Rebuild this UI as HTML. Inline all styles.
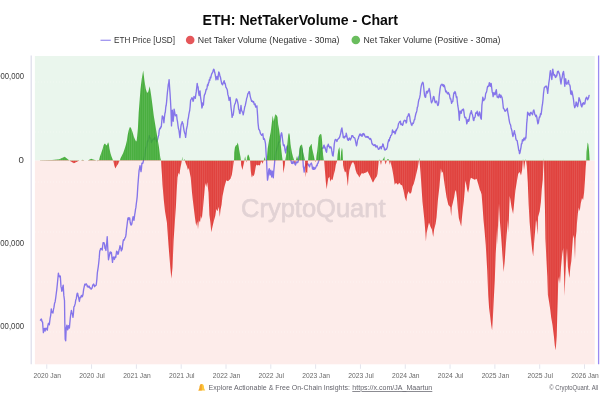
<!DOCTYPE html>
<html lang="en">
<head>
<meta charset="utf-8">
<title>ETH: NetTakerVolume - Chart</title>
<style>
html,body{margin:0;padding:0;background:#fff;}
body{width:600px;height:400px;overflow:hidden;position:relative;font-family:"Liberation Sans",sans-serif;}
svg{position:absolute;left:0;top:0;display:block;}
text{font-family:"Liberation Sans",sans-serif;}
.title{font-size:14.7px;font-weight:bold;fill:#0a0a0a;}
.lg{font-size:9px;fill:#333;}
.xl{font-size:7.7px;fill:#686868;}
.yl{font-size:9.7px;fill:#3c3c3c;}
.ft{font-size:7.4px;fill:#64646c;}
.wm{font-size:26px;fill:#8a8090;stroke:#8a8090;stroke-width:0.75px;stroke-linejoin:round;}
</style>
</head>
<body>
<svg width="600" height="400" viewBox="0 0 600 400" style="filter:blur(0.3px)">
<defs>
<clipPath id="cu"><rect x="34.9" y="56.0" width="559.8000000000001" height="104.6"/></clipPath>
<clipPath id="cd"><rect x="34.9" y="160.6" width="559.8000000000001" height="203.70000000000002"/></clipPath>
<clipPath id="cb"><path d="M40,160.6L40,160.2L52,160.1L59.3,159.3L64.7,156.8L69.4,160.6L69.7,160.8L73.9,163.2L79.4,160.6L81,160.4L82.8,159.8L84.4,160.5L87.8,160.4L91.1,158.8L94,159.8L97,160.5L97.8,161.2L98.9,160.7L99.8,157.1L101.2,153L102.6,148.9L103.5,145.4L104.4,143.7L105.3,143.7L106.3,145.4L107.1,144.8L108.1,142.3L108.8,144.1L109.4,148.2L110.4,153L111.5,156.5L112.6,159.2L113.3,160.7L114.3,165.4L115.4,168.4L116.7,166L118.1,164L119.5,160.7L119.8,160.5L120.4,158.5L121.8,155.8L123.2,153L124.6,148.9L125.9,144.8L126.9,140.6L127.7,135.1L128.7,130.3L129.7,127.2L130.8,127.6L131.9,130.3L132.8,133.1L133.8,136.5L134.9,139.3L135.9,141.3L136.6,141.3L137.2,136L137.9,128.4L138.7,112.6L139.7,99.5L140.5,89L141.8,78.4L143.2,70.6L144.5,81L145.8,89L147.1,92.9L148.4,91.6L149.7,86.3L151,94.2L152.4,104.7L153.7,115.3L155,123.2L156.3,131L157.6,139L158.9,146.8L160.3,157.4L161,160.6L161.3,166L161.9,174L162.5,185L163.8,200L165,211.3L166.9,222.5L168.5,245L170.3,267.6L171.4,278.8L172.5,267.6L173.6,240.5L174.8,222.5L175.9,206.8L176.6,192.5L177.5,177.5L178.5,172.8L179.4,174.7L180.4,168L181.3,163.4L181.8,160.6L182.2,156.5L182.6,160.6L183.5,161L184,160L184.6,159L185,161.5L186.9,166.3L187.9,170L188.8,168.1L190.7,177.5L192,192.5L192.8,200L193.9,209L195,218L196.2,225.9L197.3,221.4L198,229.3L198.9,220.3L200,222.5L200.9,215.8L201.8,219.1L202.9,209L204.4,192.5L205.3,183L206.2,187L207.2,182.2L208.5,192.5L209.4,215L210.4,222.5L211.3,232.2L212.4,227L213.7,221.4L215.3,215.8L216.4,209L217.6,211.3L218.7,206.8L219.8,216.9L220.5,210.1L221.6,204.5L222.5,196.3L224.4,186.9L226.3,180.3L228,181.2L229.2,180L230.5,178.8L231.8,175L232.8,168.8L233.6,162.5L234,160.6L234.2,152.5L234.9,147.5L235.8,145.6L236.8,145L237.8,142.5L238.6,146.2L239.2,150L239.9,153.8L240.5,156.9L240.9,160.6L241.1,165L241.8,167.5L242.4,170L243.2,166.2L244,163.1L244.4,160.6L244.6,158.8L245.2,156.2L245.6,158.8L245.9,160.6L246.4,162.5L246.8,160.6L247.1,156.9L248,154.4L248.6,155L249.5,157.5L250.1,160.6L250.4,165L250.8,171.2L251.5,176.2L252,177.5L252.8,175L253.6,176.2L254.5,173.8L255.2,170L255.8,166.2L256.5,164.4L257.4,165.6L258.6,165L259.9,165.6L260.8,162.5L261.5,161.2L262.4,163.8L263.2,161.9L263.6,160.6L264,159.4L264.6,156.9L265.1,158.8L265.5,160.5L266.7,160L267.7,148.5L269.2,139.5L270.7,132L271.8,123L272.7,115.5L273.7,121.5L275.2,114.3L276.7,115.5L277.5,117L278.2,124.5L279,129L280,136.5L280.7,144L281.5,151.5L282.2,157.5L282.7,160.6L283,165L283.3,173.3L284.2,168.3L284.8,165L285.2,160.6L285.5,159L286,155.9L286.7,150L287.5,142.5L288.2,135L289,132.7L289.7,135L290.5,144L291.2,148.5L292,153L293,156.7L294.2,160.6L294.5,162L295,163.5L295.6,161L296,160L297,156L298.5,160.6L298.8,156.3L299.4,148.8L300,146.3L301,145L302,144.4L302.6,148.1L303.2,152.5L304.1,156.3L305,160.6L305.2,168.3L305.7,177.5L306.3,171.7L307.2,173.3L307.7,165L308,160.6L308.1,160.5L308.5,155L309.1,147.5L310,146.3L311,144.4L311.6,143.8L312.2,148.8L313.1,152.5L313.9,156.3L314.8,160.6L315.3,162L316,160.6L316.4,156.3L317.2,151.3L317.9,145L318.5,137.5L319.5,135L320.4,134L321.4,134.4L322,140L322.5,147.5L323.1,155L323.8,160.6L324.2,161L325,171.7L325.8,181.7L326.7,189.2L327.5,183.3L328.3,178.3L329.5,176.7L330.3,181.7L331.2,179.2L332.5,180L333.7,175L335,170L335.8,165L336.9,161.5L337.2,160.6L337.6,155L338.3,150L339.4,146.9L339.9,152L340.4,160L340.8,160L341.1,152L341.9,147.8L342.5,150L343,160.6L343.1,165L343.8,168.8L345,172.5L346,171.2L346.9,177.5L347.5,183.8L347.9,186.2L348.5,177.5L349.4,170L350.6,166.2L351.9,163.1L353.1,161.9L354.4,164.4L355.6,170L356.9,173.8L358.1,175L359.4,177.5L360.6,175L361.9,173.1L363.1,173.8L364.4,173.1L366.2,172.5L367.5,171.2L368.8,173.8L370,176.2L371.2,178.8L372.5,181.9L373.1,182.5L374.4,180L375.6,178.1L376.9,176.2L377.5,173.8L378.1,167.5L378.8,160.6L379.2,160L379.6,159.4L380,160.6L380.5,163L381,165L381.9,160.6L382.6,160L383.5,158.5L384.4,156.5L384.6,160.6L385.5,164.4L386.9,160.6L387.5,159L388.5,159L388.8,160.6L389.5,165L390,161L391.3,165L392.2,168.8L393.5,176.3L394.7,184.7L396,182.8L397.9,184.7L399.2,182.8L400.7,184.7L402.2,185.6L403.5,190.3L404.8,196.9L406.3,201.6L407.2,195L408.5,191.3L410,194.1L411.4,192.2L412.5,186.6L413.8,183.8L415.3,178.1L416.6,172.5L417.9,166.9L418.8,161.2L419.2,157.5L419.6,161.6L420.6,173.8L422.5,201.9L424.4,220L425.3,231.3L425.9,241.6L426.6,233.1L427.8,227.5L429,222.5L430.4,226.5L431.9,229.4L433.2,236.9L434.1,229.4L435.6,223.8L436.6,216.9L437.9,200L439.4,186.9L440.9,168.4L441.9,173.1L442.8,171.6L443.8,178.8L445.1,188.1L446.6,197.5L448.4,205L450.3,206.9L451.2,216.3L451.8,206.9L452.8,203.1L454.1,197.5L455,191.9L455.9,190L456.9,197.5L457.8,208.8L458.8,218.1L460.1,222.8L461.2,226.6L461.9,218.1L462.9,208.8L463.8,201.3L464.8,190L465.3,180.6L466.2,184.4L467.2,190L468.1,192.8L469.1,188.1L470,180.6L470.9,177.8L472.8,178.8L474.7,179.7L476.6,178.8L478.4,184.4L479.9,190L480.7,191.6L481.6,194.4L482.5,205.6L483.5,220L484.6,231.3L485.7,244.4L487.2,270L488.2,295L489.1,308.1L490.3,317.5L491.2,325L492.1,330.6L492.9,317.5L493.8,298.8L494.8,280L495.7,253.8L496.6,238.8L497.2,225.6L497.5,245.3L498.1,227.5L499,203.8L499.8,220L500.7,231.3L501.7,244.4L502.6,257.5L503.6,272.1L504.7,261.3L505.6,248.1L506.6,235L507.5,225.6L507.9,220L508.4,233.1L509,215L509.7,196L510.3,199L511.6,207.5L513.1,214L514.1,203.8L515.4,190.6L516.9,181.3L518.2,173.8L519.7,171.9L521,175.6L522.1,170L522.8,161.6L523,158.5L523.4,162L524,170L525,162.5L525.9,159L526.8,166.3L527.8,183.1L528.7,205.6L529.6,222L531,238.8L532.2,250L533.2,256.6L534.1,242.5L535.1,231.3L536,220L536.6,222.5L537.5,235L538.1,216.9L539.7,211.3L540.9,201.9L541.8,188.8L542.8,179.4L543.5,161.6L543.6,158L543.8,161L544.3,183.1L545,211.3L545.4,238.8L546.3,257.5L547.3,276.3L547.9,295L549.2,302.5L550.3,310L551.2,317.5L552.5,325L553.9,336.3L554.8,345.6L555.7,350.3L556.7,336.3L557.2,317.5L557.8,298.8L558.2,282L559.1,276.3L560,283.8L561,266.9L562.3,253.8L563.2,248.1L564.1,276.3L564.6,296L565.3,276.3L566,263.1L567,248.1L567.9,266.9L568.9,274.4L569.4,278L570.4,266.9L571.3,261.3L572.2,248.1L573.2,235L574.1,238.8L575,259.4L575.6,238.8L576.5,231.3L576.9,224L577.9,213.1L578.8,207.5L579.7,211.3L580.7,203.8L582,198.1L583.1,200L584.1,192.5L585,179.4L585.7,168.1L586.3,160.6L586.5,152L587.2,146L587.6,142.6L588.3,144L589,150L589.7,160.6L589.7,160.6Z"/></clipPath>
<pattern id="st" width="2.15" height="10" patternUnits="userSpaceOnUse"><rect x="0" y="0" width="0.8" height="10" fill="#ffffff" fill-opacity="0.11"/></pattern>
<clipPath id="bl"><rect x="196" y="382" width="5.8" height="10"/></clipPath>
<clipPath id="cp"><rect x="34.9" y="56.0" width="563.8000000000001" height="308.3"/></clipPath>
</defs>
<rect x="0" y="0" width="600" height="400" fill="#ffffff"/>
<!-- title -->
<text x="300.3" y="25.2" text-anchor="middle" class="title" textLength="195.5" lengthAdjust="spacingAndGlyphs">ETH: NetTakerVolume - Chart</text>
<!-- legend -->
<line x1="100.5" y1="40.3" x2="110.8" y2="40.3" stroke="#a095f0" stroke-width="1.3"/>
<text x="114" y="43.2" class="lg" textLength="61" lengthAdjust="spacingAndGlyphs">ETH Price [USD]</text>
<circle cx="190.2" cy="40" r="4.3" fill="#e5575a"/>
<text x="197.8" y="43.2" class="lg" textLength="141.7" lengthAdjust="spacingAndGlyphs">Net Taker Volume (Negative - 30ma)</text>
<circle cx="355.8" cy="40" r="4.3" fill="#6abd5e"/>
<text x="363.5" y="43.2" class="lg" textLength="137" lengthAdjust="spacingAndGlyphs">Net Taker Volume (Positive - 30ma)</text>
<!-- plot bands -->
<rect x="34.9" y="56.0" width="559.8000000000001" height="104.6" fill="#eaf6ed"/>
<rect x="34.9" y="160.6" width="559.8000000000001" height="203.70000000000002" fill="#fdecea"/>
<line x1="34.9" y1="82" x2="594.7" y2="82" stroke="#ffffff" stroke-opacity="0.35" stroke-width="1" stroke-dasharray="1 2"/><line x1="34.9" y1="132" x2="594.7" y2="132" stroke="#ffffff" stroke-opacity="0.35" stroke-width="1" stroke-dasharray="1 2"/><line x1="34.9" y1="182" x2="594.7" y2="182" stroke="#ffffff" stroke-opacity="0.35" stroke-width="1" stroke-dasharray="1 2"/><line x1="34.9" y1="232" x2="594.7" y2="232" stroke="#ffffff" stroke-opacity="0.35" stroke-width="1" stroke-dasharray="1 2"/><line x1="34.9" y1="282" x2="594.7" y2="282" stroke="#ffffff" stroke-opacity="0.35" stroke-width="1" stroke-dasharray="1 2"/><line x1="34.9" y1="332" x2="594.7" y2="332" stroke="#ffffff" stroke-opacity="0.35" stroke-width="1" stroke-dasharray="1 2"/>
<!-- axes -->
<line x1="31.2" y1="55.5" x2="31.2" y2="364.3" stroke="#dcdcea" stroke-width="1.2"/>
<line x1="598.6" y1="55.5" x2="598.6" y2="364.3" stroke="#9a8bf2" stroke-width="1.3"/>
<line x1="46.75" y1="364.3" x2="46.75" y2="368.8" stroke="#e4e4ec" stroke-width="1"/><line x1="91.56" y1="364.3" x2="91.56" y2="368.8" stroke="#e4e4ec" stroke-width="1"/><line x1="136.38" y1="364.3" x2="136.38" y2="368.8" stroke="#e4e4ec" stroke-width="1"/><line x1="181.19" y1="364.3" x2="181.19" y2="368.8" stroke="#e4e4ec" stroke-width="1"/><line x1="226.00" y1="364.3" x2="226.00" y2="368.8" stroke="#e4e4ec" stroke-width="1"/><line x1="270.81" y1="364.3" x2="270.81" y2="368.8" stroke="#e4e4ec" stroke-width="1"/><line x1="315.62" y1="364.3" x2="315.62" y2="368.8" stroke="#e4e4ec" stroke-width="1"/><line x1="360.44" y1="364.3" x2="360.44" y2="368.8" stroke="#e4e4ec" stroke-width="1"/><line x1="405.25" y1="364.3" x2="405.25" y2="368.8" stroke="#e4e4ec" stroke-width="1"/><line x1="450.06" y1="364.3" x2="450.06" y2="368.8" stroke="#e4e4ec" stroke-width="1"/><line x1="494.88" y1="364.3" x2="494.88" y2="368.8" stroke="#e4e4ec" stroke-width="1"/><line x1="539.69" y1="364.3" x2="539.69" y2="368.8" stroke="#e4e4ec" stroke-width="1"/><line x1="584.50" y1="364.3" x2="584.50" y2="368.8" stroke="#e4e4ec" stroke-width="1"/>
<text x="24" y="79.0" text-anchor="end" class="yl" textLength="42.7" lengthAdjust="spacingAndGlyphs">200,000,000</text><text x="24" y="162.70000000000002" text-anchor="end" class="yl">0</text><text x="24" y="245.9" text-anchor="end" class="yl" textLength="45.7" lengthAdjust="spacingAndGlyphs">-200,000,000</text><text x="24" y="328.9" text-anchor="end" class="yl" textLength="45.7" lengthAdjust="spacingAndGlyphs">-400,000,000</text>
<text x="47.25" y="378" text-anchor="middle" class="xl" textLength="27.5" lengthAdjust="spacingAndGlyphs">2020 Jan</text><text x="92.06" y="378" text-anchor="middle" class="xl" textLength="25.6" lengthAdjust="spacingAndGlyphs">2020 Jul</text><text x="136.88" y="378" text-anchor="middle" class="xl" textLength="27.5" lengthAdjust="spacingAndGlyphs">2021 Jan</text><text x="181.69" y="378" text-anchor="middle" class="xl" textLength="25.6" lengthAdjust="spacingAndGlyphs">2021 Jul</text><text x="226.50" y="378" text-anchor="middle" class="xl" textLength="27.5" lengthAdjust="spacingAndGlyphs">2022 Jan</text><text x="271.31" y="378" text-anchor="middle" class="xl" textLength="25.6" lengthAdjust="spacingAndGlyphs">2022 Jul</text><text x="316.12" y="378" text-anchor="middle" class="xl" textLength="27.5" lengthAdjust="spacingAndGlyphs">2023 Jan</text><text x="360.94" y="378" text-anchor="middle" class="xl" textLength="25.6" lengthAdjust="spacingAndGlyphs">2023 Jul</text><text x="405.75" y="378" text-anchor="middle" class="xl" textLength="27.5" lengthAdjust="spacingAndGlyphs">2024 Jan</text><text x="450.56" y="378" text-anchor="middle" class="xl" textLength="25.6" lengthAdjust="spacingAndGlyphs">2024 Jul</text><text x="495.38" y="378" text-anchor="middle" class="xl" textLength="27.5" lengthAdjust="spacingAndGlyphs">2025 Jan</text><text x="540.19" y="378" text-anchor="middle" class="xl" textLength="25.6" lengthAdjust="spacingAndGlyphs">2025 Jul</text><text x="585.00" y="378" text-anchor="middle" class="xl" textLength="27.5" lengthAdjust="spacingAndGlyphs">2026 Jan</text>
<!-- watermark -->
<g opacity="0.23"><text x="313.3" y="216.5" text-anchor="middle" class="wm" textLength="144.5" lengthAdjust="spacingAndGlyphs">CryptoQuant</text></g>
<!-- price -->
<path d="M40.4,320.2L40.9,319.27L41.4,319.03L42,321.5L42.6,322.25L43,327.86L43.4,332.66L43.8,329.37L44.2,328.61L44.65,328.46L45.1,331.03L45.65,328.56L46.2,328.17L46.75,329.02L47.3,330.24L47.85,325.62L48.4,323.31L48.85,324.38L49.3,324.87L49.7,321.68L50.1,318.39L50.7,315.33L51.3,308.82L51.7,312.08L52.1,312.48L52.5,312.03L52.9,313.1L53.45,309.58L54,307.13L54.55,303.34L55.1,301.89L55.7,298.02L56.3,293.27L56.8,289.34L57.3,284.54L57.7,280.24L58.4,273.19L58.9,275.74L59.4,276.82L59.85,275.89L60.3,276.09L61,286.65L61.4,288.2L61.8,291.21L62.25,289.8L62.7,287.23L63.2,285.08L63.8,295.13L64.5,300.49L64.8,322.14L65.2,339.28L65.7,340.8L66.2,328.2L66.9,325.11L67.3,328.52L67.7,329.93L68.1,328.17L68.5,325.62L68.95,327.4L69.4,327.98L69.8,323.32L70.2,318.89L70.8,313.79L71.4,310.41L71.8,312.13L72.2,313.58L72.6,315.07L73,317.26L73.45,313.18L73.9,306.77L74.4,306.44L74.9,304.64L75.3,303.2L75.7,300.25L76.3,298.63L76.9,294.54L77.3,293.15L77.7,293.28L78.15,296.01L78.6,297.1L79,299.59L79.4,301.45L79.85,298.55L80.3,297.14L80.85,297.55L81.4,295.51L81.9,295.59L82.4,296.69L83,294.51L83.6,289.56L84.2,286.95L84.8,284.25L85.23,285.08L85.67,284.62L86.1,283.78L86.7,284.39L87.3,286.61L87.73,286.01L88.17,287.32L88.6,286.38L89.2,286.1L89.8,288.06L90.23,287.86L90.67,288.13L91.1,289.18L91.7,288.62L92.3,287.25L92.77,284.91L93.23,285.06L93.7,284.06L94.13,284.97L94.57,286.69L95,286.1L95.6,285.5L96.2,285.12L96.9,278.99L97.35,272.76L97.8,269.82L98.3,266.49L98.8,262.29L99.25,257.64L99.7,251.49L100.13,250.36L100.57,248.54L101,248.94L101.6,248.39L102.2,250.15L102.65,245.98L103.1,242.75L103.55,242.62L104,242.63L104.5,244.45L105,248.43L105.45,248.5L105.9,250.46L106.3,245.43L106.7,243.49L107.2,236.72L107.8,248.43L108.5,259.74L109,257.19L109.5,255.16L109.95,252.32L110.4,251.97L110.9,253.53L111.4,252.46L111.95,257.6L112.5,262.37L112.95,258.81L113.4,257.03L113.9,257.44L114.4,259.45L114.83,257.45L115.27,256.4L115.7,257.67L116.15,254.48L116.6,251.23L117.03,252.66L117.47,252.05L117.9,254.43L118.45,253.49L119,250.08L119.5,248.44L120,245.75L120.43,247.13L120.87,248.07L121.3,250.89L121.75,249.8L122.2,249.09L122.63,245.16L123.07,241.7L123.5,239.73L124,240.22L124.5,239.19L125,237.82L125.5,237.05L126,234.95L126.45,229.68L126.9,226.32L127.4,222.12L127.9,218.31L128.35,217.83L128.8,219.47L129.25,218.03L129.7,218L130.2,222.47L130.7,224.34L131.13,225.08L131.57,224.6L132,222.98L132.55,219.29L133.1,216.61L133.55,217.93L134,220.28L134.7,214.69L135.1,212.37L135.5,209.42L135.9,207.42L136.3,203.78L136.75,200.51L137.2,196.61L137.8,186.46L138.5,177.67L139.1,170.43L139.55,168.5L140,165.56L140.5,168.53L141,171.56L141.45,168.52L141.9,163.22L142.4,163.5L142.9,163.21L143.4,160.89L143.85,158.7L144.3,157.47L144.7,155.42L145.1,152.15L145.55,149.21L146,147.1L146.45,147.19L146.9,144.12L147.36,141.16L147.82,141.62L148.28,140.5L148.74,137.95L149.2,135.74L149.72,137.57L150.25,137.84L150.78,139.02L151.3,142.49L151.87,141.58L152.43,140.35L153,139.86L153.45,138.78L153.9,139.67L154.35,139.1L154.8,137.4L155.37,138.39L155.93,139.95L156.5,141.73L156.95,141.41L157.4,140.05L157.85,138.31L158.3,136.41L158.75,134.93L159.2,130.45L159.6,129.17L160,128.09L160.43,128.65L160.87,126.63L161.3,126.74L161.8,121.05L162.3,115.83L162.75,116.72L163.2,116.99L163.9,122.74L164.4,117.45L164.9,113.48L165.33,112L165.77,107.22L166.2,105.27L166.6,101.83L167,97.06L167.43,92.24L167.87,88.59L168.3,84.36L168.7,83L169.1,79.59L169.55,86.73L170,92.84L170.45,99.93L170.9,108.39L171.5,125.91L171.9,118.14L172.3,110.27L172.75,116.89L173.2,121.24L173.65,115.54L174.1,109.11L174.7,112.39L175.3,115.8L175.73,115.16L176.17,115.1L176.6,114.68L177.05,119.32L177.5,121.51L178,125.53L178.5,128.83L179,130.35L179.45,134.08L179.9,137.67L180.4,133.07L180.9,126.52L181.33,124.2L181.77,123.59L182.2,121.75L182.63,122.99L183.07,124.05L183.5,127.08L184.05,130.55L184.6,132.92L185.1,133.81L185.6,137.43L186.03,134.25L186.47,129.26L186.9,127.3L187.4,125.17L187.9,119.79L188.4,117.98L188.83,114.69L189.27,112.46L189.7,110.51L190.15,106.3L190.6,100.24L191.03,99.46L191.47,98.78L191.9,97.63L192.5,98.79L193.1,101.41L193.55,99.92L194,96.4L194.43,97.7L194.87,97.99L195.3,98.29L195.8,94.54L196.3,91.43L196.75,87.59L197.2,83.34L197.65,86.66L198.1,86.9L198.6,92.67L199.1,95.49L199.55,92.9L200,90.82L200.45,96.34L200.9,99.46L201.4,102.79L201.9,108.02L202.35,106.53L202.8,102.83L203.4,105.05L203.85,99.1L204.3,95.44L204.73,94.28L205.17,93.73L205.6,91.77L206.1,89.31L206.6,89.63L207.1,87.42L207.53,84.65L207.97,85.68L208.4,82.94L208.87,82.77L209.33,79.68L209.8,80.37L210.3,77.13L210.8,77.95L211.3,75.25L211.8,73.58L212.3,72.99L212.8,72.05L213.23,70.27L213.67,69.22L214.1,69.73L214.7,72.53L215.13,74.13L215.57,76.78L216,79.83L216.55,77.56L217.1,76.4L217.5,77.42L217.9,79.67L218.35,75.02L218.8,71.9L219.4,73.28L220,76.44L220.43,77.02L220.87,79.58L221.3,81.69L221.73,83.83L222.17,84.22L222.6,84.67L223.15,83.07L223.7,81.76L224.13,80.72L224.57,83.46L225,83.03L225.43,84.65L225.87,87.24L226.3,87.69L226.8,88.77L227.3,89.9L227.85,94.45L228.4,96.13L229.1,100.35L229.6,99.22L230.1,97.34L230.55,102.06L231,107.34L231.55,111.31L232.1,117.41L232.57,114.95L233.03,115.39L233.5,112.84L233.93,108.99L234.37,105.65L234.8,104.16L235.3,103.34L235.8,101.18L236.3,98.87L236.73,99.26L237.17,100.35L237.6,101.86L238.15,104.62L238.7,109.34L239.13,109.92L239.57,113.25L240,113.6L240.5,109.49L241,105.33L241.45,109.85L241.9,111.1L242.33,112.1L242.77,112.27L243.2,114.88L243.75,112.12L244.3,109.4L244.77,106.64L245.23,105.68L245.7,103.28L246.2,100.89L246.7,98.17L247.2,97.09L247.63,94.56L248.07,93.23L248.5,93.19L248.95,91.7L249.4,91.69L249.85,94.04L250.3,96.56L250.77,98.34L251.23,100.08L251.7,101.4L252.2,100.97L252.7,101.08L253.2,102.41L253.7,101.78L254.2,104.44L254.7,104.85L255.13,103.96L255.57,106.97L256,107.01L256.45,106.48L256.9,105.85L257.6,115.33L258,122.62L258.7,129.02L259.25,129.76L259.8,130.85L260.25,132.91L260.7,133.84L261.2,134.5L261.7,135.41L262.25,134.8L262.8,133.7L263.5,139.22L264.1,138.44L264.7,139.81L265.1,141.68L265.5,143.59L266.2,154.85L266.6,161.06L266.9,168.43L267.5,180.13L267.9,178.04L268.3,174.99L268.75,170.16L269.2,168.61L269.6,172.39L270,175L270.4,172.61L270.8,170.17L271.25,172.05L271.7,176.95L272.1,173.46L272.5,171.25L272.9,173.9L273.3,177.74L273.75,171.22L274.2,166.95L274.7,161.3L275.13,157.68L275.57,154.25L276,151.48L276.55,150.18L277.1,148.55L277.65,146.23L278.2,144.15L278.7,142.23L279.2,141.94L279.7,142.24L280.2,140.23L280.7,135.91L281.2,133.57L281.6,132.79L282,134.54L282.7,140.76L283.1,143.77L283.5,145.7L284.2,144.88L284.6,146.72L285,150.02L285.7,152.96L286.1,150.65L286.5,148.1L287.2,145.91L287.65,146.22L288.1,150.18L288.55,151.68L289,151.49L289.5,154.08L290,157.36L290.5,160L291,160.75L291.7,163.26L292.23,162.03L292.77,163.64L293.3,161.4L293.87,162.78L294.43,162.29L295,164.23L295.57,164.99L296.13,161.96L296.7,162.84L297.23,161.96L297.77,162.53L298.3,161.01L298.87,156.89L299.43,155.79L300,151.49L300.5,148.81L301,147.48L301.5,147.69L302.2,149.95L302.6,154.81L303,160.42L303.3,166.54L303.75,168.65L304.2,172.06L304.6,167.71L305,166.96L305.4,166.47L305.8,163.8L306.37,165.18L306.93,164.24L307.5,163.72L308.1,163.92L308.7,165.67L309.13,165.21L309.57,166.76L310,165.09L310.43,164.02L310.87,163.65L311.3,163.06L311.9,164.89L312.5,168.78L313.1,169.35L313.7,167.27L314.13,169.37L314.57,167.88L315,168.95L315.6,167.98L316.2,166.37L316.63,165.19L317.07,165.8L317.5,163.7L318.1,162.99L318.7,160.94L319.2,159.44L319.7,156.92L320.2,153.05L320.7,152.16L321.2,148.65L321.7,148.74L322.22,148.02L322.73,148.59L323.25,147.65L323.68,145.91L324.1,145.13L324.55,147.83L325,147.11L325.5,149.32L326,151.14L326.6,152.29L327.25,145.85L327.75,146.43L328.25,144.15L328.68,145.82L329.1,146.09L329.55,147.37L330,147.99L330.5,146.8L331,147.14L331.45,148.52L331.9,151.73L332.6,155.6L333.1,156.01L333.75,150.43L334.25,144.32L334.62,142.05L335,140.22L335.5,139.38L336,139.57L336.45,140.48L336.9,141.47L337.4,139.87L337.9,139.15L338.4,138.66L338.9,137.91L339.32,137.95L339.75,136.81L340.18,135.09L340.6,133.83L341.25,129.87L341.9,127.93L342.5,132.04L342.88,134.03L343.25,137.39L343.68,136.38L344.1,138.1L344.55,137.59L345,136.68L345.5,135.75L346,136.66L346.2,133.14L346.65,135L347.1,137.14L347.57,139.5L348.03,140.11L348.5,140.39L349,138.27L349.5,138L350,139.32L350.43,139.95L350.87,138.35L351.3,138.19L351.8,135.67L352.3,135.91L352.8,135.75L353.23,136.91L353.67,137.63L354.1,137.7L354.53,137.71L354.97,138.56L355.4,140.64L355.95,143.37L356.5,145.79L357,144.12L357.5,140.23L357.93,139.21L358.37,138.33L358.8,136.26L359.23,136.12L359.67,134.25L360.1,135.6L360.65,134.05L361.2,134.84L361.65,135.94L362.1,136.39L362.53,134.42L362.97,133.72L363.4,133.54L363.87,134.96L364.33,134.17L364.8,135.85L365.3,136.67L365.8,137.15L366.3,137.08L366.8,136.37L367.3,137.5L367.8,136.69L368.23,136.9L368.67,137.68L369.1,138.58L369.53,138.67L369.97,139.52L370.4,138.47L370.9,139.14L371.4,140.61L371.9,143.28L372.33,144.35L372.77,144.09L373.2,145.1L373.7,145.29L374.2,145.52L374.7,144.62L375.13,144.61L375.57,146.47L376,147.05L376.5,146.08L377,145.8L377.5,147.33L377.93,147.9L378.37,149.31L378.8,149.08L379.4,148.89L380,146.85L380.43,147.21L380.87,146.92L381.3,148.89L381.8,146.4L382.3,146.49L382.8,143.82L383.23,144.4L383.67,147.15L384.1,147.28L384.53,149.79L384.97,149.35L385.4,149.97L385.95,149.02L386.5,149.31L386.93,148.03L387.37,147.01L387.8,143.43L388.3,141.58L388.8,139.7L389.3,140.79L389.8,137.66L390.3,137.63L390.73,135.55L391.17,135.31L391.6,134.82L392.05,133.2L392.5,129.94L392.93,131.83L393.37,132.26L393.8,131.42L394.4,131.56L395,133.86L395.43,133.21L395.87,130.13L396.3,130.77L396.8,129.3L397.3,128.35L397.8,127.62L398.23,125.24L398.67,123.18L399.1,122.87L399.55,121.75L400,121.78L400.43,121.1L400.87,124.56L401.3,123.79L401.9,124.12L402.5,125.34L402.93,124.73L403.37,122.33L403.8,120.83L404.23,120.89L404.67,120.25L405.1,120.74L405.65,120.78L406.2,122.96L406.63,122.12L407.07,117.36L407.5,116.51L408,116.14L408.5,114.08L408.93,113.66L409.37,114.87L409.8,117.04L410.35,121.56L410.9,122.84L411.4,124.79L411.9,125.42L412.33,123.88L412.77,123.05L413.2,123.58L413.7,122.22L414.2,119.92L414.7,119.63L415.13,116.98L415.57,114.99L416,113.28L416.43,112.37L416.87,110.65L417.3,107.34L417.85,106.18L418.4,102L418.83,99.83L419.27,98.69L419.7,97.38L420.2,94.66L420.7,89.58L421.25,86.15L421.8,84.03L422.3,82.93L422.8,82.25L423.25,83.4L423.7,87.22L424.15,91.82L424.6,95.64L425.1,97.07L425.6,97.31L426.05,93.88L426.5,91.41L426.93,91.49L427.37,93.05L427.8,92.06L428.23,90.36L428.67,90.79L429.1,88.53L429.7,90.74L430.3,94.81L430.75,98.76L431.2,101.72L431.65,102.89L432.1,101.4L432.6,101.01L433.1,97.85L433.55,96.4L434,96.78L434.43,99.06L434.87,101.56L435.3,102.74L435.73,101.4L436.17,101.35L436.6,101.13L437.2,103.67L437.8,105.56L438.25,105.09L438.7,102.97L439.15,96.51L439.6,92.86L440.1,88.63L440.6,86.07L441.05,84.92L441.5,84.85L441.93,84.16L442.37,84.78L442.8,85.73L443.23,84.63L443.67,86.49L444.1,85.08L444.7,86.83L445.3,89.59L445.73,91.81L446.17,90.99L446.6,91.32L447.03,93.13L447.47,93.26L447.9,93.92L448.4,92.54L448.9,93.99L449.4,94.74L449.83,96.99L450.27,98.78L450.7,98.62L451.15,100.83L451.6,103.4L452.2,101.47L452.8,101.5L453.25,97.45L453.7,93.85L454.13,92.42L454.57,93.3L455,91.55L455.5,92.73L456,95.59L456.45,97.59L456.9,96.79L457.35,101.69L457.8,105.73L458.3,108.5L458.8,112.96L459.3,120.22L459.7,115.06L460.1,111.04L460.65,112.5L461.2,113.26L461.7,110.81L462.2,109.79L462.63,109.48L463.07,110.23L463.5,109.07L463.95,112.14L464.4,115.69L464.83,117.49L465.27,117.34L465.7,117.34L466.25,119.7L466.8,123.89L467.3,122L467.8,119.85L468.25,119.42L468.7,121.25L469.13,119.99L469.57,116.93L470,114.77L470.43,113.06L470.87,113.63L471.3,110.7L471.9,113.15L472.5,114.85L472.95,117.1L473.4,120.08L473.83,120.56L474.27,118.02L474.7,117.48L475.13,116.92L475.57,113.78L476,112.58L476.6,113.4L477.2,111.22L477.65,114.61L478.1,115.9L478.53,115.88L478.97,113.35L479.4,111.85L479.9,113.09L480.4,116.95L480.85,118.27L481.3,119.23L481.9,105.17L482.35,101.77L482.8,97.06L483.25,99.11L483.7,100.63L484.2,99.4L484.7,99.12L485.15,98.03L485.6,93.99L486.03,92.8L486.47,92.18L486.9,90.19L487.33,87.56L487.77,86.11L488.2,86.47L488.75,85.83L489.3,82.78L489.8,83.06L490.3,86.45L490.75,84.21L491.2,83.52L491.7,87.71L492.2,91.94L492.65,92.93L493.1,96.6L493.55,93.57L494,92.4L494.47,94.17L494.93,94.75L495.4,94.07L495.85,91.2L496.3,89.59L496.75,93.5L497.2,97.08L497.7,96.52L498.2,97.83L498.65,96.92L499.1,94.82L499.55,94.32L500,97.07L500.47,97.54L500.93,95.15L501.4,96.66L501.95,97L502.5,100.1L502.95,104.3L503.4,108.43L503.93,108.69L504.47,109.99L505,111.29L505.46,110.5L505.92,110.72L506.38,109.6L506.84,109.1L507.3,108.3L507.73,111.82L508.17,114.1L508.6,116.52L509.1,119.99L509.6,122.44L510.1,123.96L510.57,124.94L511.03,127.72L511.5,129.29L511.97,130.99L512.43,134.29L512.9,136.47L513.4,134.79L513.9,133.06L514.4,130.62L514.87,133.91L515.33,134.65L515.8,138.55L516.27,140.1L516.73,140.27L517.2,140.73L517.7,144.08L518.2,146.57L518.7,150.27L519.1,150.46L519.5,153.67L520,152.69L520.5,149.8L521,147.33L521.47,143.68L521.93,143.65L522.4,139.79L522.9,140.94L523.4,140.6L523.9,138.12L524.4,139.2L524.9,139.99L525.4,137.2L525.9,138.14L526.3,131.92L526.7,123.64L527.15,119.44L527.6,112.26L528.17,114.38L528.73,113.3L529.3,115.3L529.87,115.63L530.43,112.56L531,112.25L531.5,113.45L532,113.82L532.5,114.81L532.97,112.45L533.43,110.48L533.9,110.06L534.37,112.04L534.83,114.59L535.3,114.95L535.8,116.65L536.3,115.15L536.8,116.83L537.35,120.81L537.9,123.85L538.4,122.72L538.9,119.37L539.4,116.88L539.97,116.98L540.53,113.68L541.1,114.42L541.57,110.96L542.03,106.92L542.5,104.21L543,99.75L543.5,93.52L544.2,88.08L544.6,87.08L545,87.28L545.4,86.58L545.8,86.16L546.5,86.26L547.2,89.53L547.7,93.34L548.2,88.74L548.8,83.15L549.5,78.51L550,73.09L550.4,70.67L550.8,73.8L551.3,75.48L551.8,79.51L552.2,75.63L552.5,70.12L552.8,69.13L553.3,73.01L554,75.42L554.5,74.65L555,76.21L555.5,77.46L556,77L556.4,75.26L556.8,75.85L557.5,71.59L558,71.35L558.4,71.17L558.8,72.59L559.5,74.09L560,76.69L560.5,81.13L561,83.97L561.5,79.62L562.2,77.46L562.6,74.23L563,72.63L563.5,71.38L564,75.15L564.5,83.39L564.8,86.3L565.2,79.9L565.7,78.75L566.2,82.99L566.6,84.18L567,84.07L567.4,82.8L567.8,82.65L568.5,80.44L569,84.46L569.7,84.75L570.2,86.74L570.7,93.42L571.2,94.52L571.8,91.03L572.3,92.9L573,96.72L573.5,99.54L574.1,104.94L574.7,107.69L575.17,106.42L575.63,105.66L576.1,102.02L576.6,102.93L577.1,105.59L577.6,106.71L578.07,104.26L578.53,101.91L579,97.76L579.5,98.96L580,100.37L580.5,101.93L580.97,105L581.43,106.12L581.9,106.93L582.37,103.79L582.83,104.87L583.3,102.66L583.8,102.8L584.3,104.13L584.8,103.85L585.27,101.14L585.73,98.85L586.2,97.82L586.67,97.18L587.13,98.54L587.6,99.76L588.1,98.65L588.6,97.67L589.1,95.42" fill="none" stroke="#8575ea" stroke-width="1.35" stroke-linejoin="round" stroke-linecap="round" clip-path="url(#cp)"/>
<!-- bars -->
<g opacity="0.88">
<path d="M40,160.6L40,160.2L52,160.1L59.3,159.3L64.7,156.8L69.4,160.6L69.7,160.8L73.9,163.2L79.4,160.6L81,160.4L82.8,159.8L84.4,160.5L87.8,160.4L91.1,158.8L94,159.8L97,160.5L97.8,161.2L98.9,160.7L99.8,157.1L101.2,153L102.6,148.9L103.5,145.4L104.4,143.7L105.3,143.7L106.3,145.4L107.1,144.8L108.1,142.3L108.8,144.1L109.4,148.2L110.4,153L111.5,156.5L112.6,159.2L113.3,160.7L114.3,165.4L115.4,168.4L116.7,166L118.1,164L119.5,160.7L119.8,160.5L120.4,158.5L121.8,155.8L123.2,153L124.6,148.9L125.9,144.8L126.9,140.6L127.7,135.1L128.7,130.3L129.7,127.2L130.8,127.6L131.9,130.3L132.8,133.1L133.8,136.5L134.9,139.3L135.9,141.3L136.6,141.3L137.2,136L137.9,128.4L138.7,112.6L139.7,99.5L140.5,89L141.8,78.4L143.2,70.6L144.5,81L145.8,89L147.1,92.9L148.4,91.6L149.7,86.3L151,94.2L152.4,104.7L153.7,115.3L155,123.2L156.3,131L157.6,139L158.9,146.8L160.3,157.4L161,160.6L161.3,166L161.9,174L162.5,185L163.8,200L165,211.3L166.9,222.5L168.5,245L170.3,267.6L171.4,278.8L172.5,267.6L173.6,240.5L174.8,222.5L175.9,206.8L176.6,192.5L177.5,177.5L178.5,172.8L179.4,174.7L180.4,168L181.3,163.4L181.8,160.6L182.2,156.5L182.6,160.6L183.5,161L184,160L184.6,159L185,161.5L186.9,166.3L187.9,170L188.8,168.1L190.7,177.5L192,192.5L192.8,200L193.9,209L195,218L196.2,225.9L197.3,221.4L198,229.3L198.9,220.3L200,222.5L200.9,215.8L201.8,219.1L202.9,209L204.4,192.5L205.3,183L206.2,187L207.2,182.2L208.5,192.5L209.4,215L210.4,222.5L211.3,232.2L212.4,227L213.7,221.4L215.3,215.8L216.4,209L217.6,211.3L218.7,206.8L219.8,216.9L220.5,210.1L221.6,204.5L222.5,196.3L224.4,186.9L226.3,180.3L228,181.2L229.2,180L230.5,178.8L231.8,175L232.8,168.8L233.6,162.5L234,160.6L234.2,152.5L234.9,147.5L235.8,145.6L236.8,145L237.8,142.5L238.6,146.2L239.2,150L239.9,153.8L240.5,156.9L240.9,160.6L241.1,165L241.8,167.5L242.4,170L243.2,166.2L244,163.1L244.4,160.6L244.6,158.8L245.2,156.2L245.6,158.8L245.9,160.6L246.4,162.5L246.8,160.6L247.1,156.9L248,154.4L248.6,155L249.5,157.5L250.1,160.6L250.4,165L250.8,171.2L251.5,176.2L252,177.5L252.8,175L253.6,176.2L254.5,173.8L255.2,170L255.8,166.2L256.5,164.4L257.4,165.6L258.6,165L259.9,165.6L260.8,162.5L261.5,161.2L262.4,163.8L263.2,161.9L263.6,160.6L264,159.4L264.6,156.9L265.1,158.8L265.5,160.5L266.7,160L267.7,148.5L269.2,139.5L270.7,132L271.8,123L272.7,115.5L273.7,121.5L275.2,114.3L276.7,115.5L277.5,117L278.2,124.5L279,129L280,136.5L280.7,144L281.5,151.5L282.2,157.5L282.7,160.6L283,165L283.3,173.3L284.2,168.3L284.8,165L285.2,160.6L285.5,159L286,155.9L286.7,150L287.5,142.5L288.2,135L289,132.7L289.7,135L290.5,144L291.2,148.5L292,153L293,156.7L294.2,160.6L294.5,162L295,163.5L295.6,161L296,160L297,156L298.5,160.6L298.8,156.3L299.4,148.8L300,146.3L301,145L302,144.4L302.6,148.1L303.2,152.5L304.1,156.3L305,160.6L305.2,168.3L305.7,177.5L306.3,171.7L307.2,173.3L307.7,165L308,160.6L308.1,160.5L308.5,155L309.1,147.5L310,146.3L311,144.4L311.6,143.8L312.2,148.8L313.1,152.5L313.9,156.3L314.8,160.6L315.3,162L316,160.6L316.4,156.3L317.2,151.3L317.9,145L318.5,137.5L319.5,135L320.4,134L321.4,134.4L322,140L322.5,147.5L323.1,155L323.8,160.6L324.2,161L325,171.7L325.8,181.7L326.7,189.2L327.5,183.3L328.3,178.3L329.5,176.7L330.3,181.7L331.2,179.2L332.5,180L333.7,175L335,170L335.8,165L336.9,161.5L337.2,160.6L337.6,155L338.3,150L339.4,146.9L339.9,152L340.4,160L340.8,160L341.1,152L341.9,147.8L342.5,150L343,160.6L343.1,165L343.8,168.8L345,172.5L346,171.2L346.9,177.5L347.5,183.8L347.9,186.2L348.5,177.5L349.4,170L350.6,166.2L351.9,163.1L353.1,161.9L354.4,164.4L355.6,170L356.9,173.8L358.1,175L359.4,177.5L360.6,175L361.9,173.1L363.1,173.8L364.4,173.1L366.2,172.5L367.5,171.2L368.8,173.8L370,176.2L371.2,178.8L372.5,181.9L373.1,182.5L374.4,180L375.6,178.1L376.9,176.2L377.5,173.8L378.1,167.5L378.8,160.6L379.2,160L379.6,159.4L380,160.6L380.5,163L381,165L381.9,160.6L382.6,160L383.5,158.5L384.4,156.5L384.6,160.6L385.5,164.4L386.9,160.6L387.5,159L388.5,159L388.8,160.6L389.5,165L390,161L391.3,165L392.2,168.8L393.5,176.3L394.7,184.7L396,182.8L397.9,184.7L399.2,182.8L400.7,184.7L402.2,185.6L403.5,190.3L404.8,196.9L406.3,201.6L407.2,195L408.5,191.3L410,194.1L411.4,192.2L412.5,186.6L413.8,183.8L415.3,178.1L416.6,172.5L417.9,166.9L418.8,161.2L419.2,157.5L419.6,161.6L420.6,173.8L422.5,201.9L424.4,220L425.3,231.3L425.9,241.6L426.6,233.1L427.8,227.5L429,222.5L430.4,226.5L431.9,229.4L433.2,236.9L434.1,229.4L435.6,223.8L436.6,216.9L437.9,200L439.4,186.9L440.9,168.4L441.9,173.1L442.8,171.6L443.8,178.8L445.1,188.1L446.6,197.5L448.4,205L450.3,206.9L451.2,216.3L451.8,206.9L452.8,203.1L454.1,197.5L455,191.9L455.9,190L456.9,197.5L457.8,208.8L458.8,218.1L460.1,222.8L461.2,226.6L461.9,218.1L462.9,208.8L463.8,201.3L464.8,190L465.3,180.6L466.2,184.4L467.2,190L468.1,192.8L469.1,188.1L470,180.6L470.9,177.8L472.8,178.8L474.7,179.7L476.6,178.8L478.4,184.4L479.9,190L480.7,191.6L481.6,194.4L482.5,205.6L483.5,220L484.6,231.3L485.7,244.4L487.2,270L488.2,295L489.1,308.1L490.3,317.5L491.2,325L492.1,330.6L492.9,317.5L493.8,298.8L494.8,280L495.7,253.8L496.6,238.8L497.2,225.6L497.5,245.3L498.1,227.5L499,203.8L499.8,220L500.7,231.3L501.7,244.4L502.6,257.5L503.6,272.1L504.7,261.3L505.6,248.1L506.6,235L507.5,225.6L507.9,220L508.4,233.1L509,215L509.7,196L510.3,199L511.6,207.5L513.1,214L514.1,203.8L515.4,190.6L516.9,181.3L518.2,173.8L519.7,171.9L521,175.6L522.1,170L522.8,161.6L523,158.5L523.4,162L524,170L525,162.5L525.9,159L526.8,166.3L527.8,183.1L528.7,205.6L529.6,222L531,238.8L532.2,250L533.2,256.6L534.1,242.5L535.1,231.3L536,220L536.6,222.5L537.5,235L538.1,216.9L539.7,211.3L540.9,201.9L541.8,188.8L542.8,179.4L543.5,161.6L543.6,158L543.8,161L544.3,183.1L545,211.3L545.4,238.8L546.3,257.5L547.3,276.3L547.9,295L549.2,302.5L550.3,310L551.2,317.5L552.5,325L553.9,336.3L554.8,345.6L555.7,350.3L556.7,336.3L557.2,317.5L557.8,298.8L558.2,282L559.1,276.3L560,283.8L561,266.9L562.3,253.8L563.2,248.1L564.1,276.3L564.6,296L565.3,276.3L566,263.1L567,248.1L567.9,266.9L568.9,274.4L569.4,278L570.4,266.9L571.3,261.3L572.2,248.1L573.2,235L574.1,238.8L575,259.4L575.6,238.8L576.5,231.3L576.9,224L577.9,213.1L578.8,207.5L579.7,211.3L580.7,203.8L582,198.1L583.1,200L584.1,192.5L585,179.4L585.7,168.1L586.3,160.6L586.5,152L587.2,146L587.6,142.6L588.3,144L589,150L589.7,160.6L589.7,160.6Z" fill="#32a526" clip-path="url(#cu)"/>
<path d="M40,160.6L40,160.2L52,160.1L59.3,159.3L64.7,156.8L69.4,160.6L69.7,160.8L73.9,163.2L79.4,160.6L81,160.4L82.8,159.8L84.4,160.5L87.8,160.4L91.1,158.8L94,159.8L97,160.5L97.8,161.2L98.9,160.7L99.8,157.1L101.2,153L102.6,148.9L103.5,145.4L104.4,143.7L105.3,143.7L106.3,145.4L107.1,144.8L108.1,142.3L108.8,144.1L109.4,148.2L110.4,153L111.5,156.5L112.6,159.2L113.3,160.7L114.3,165.4L115.4,168.4L116.7,166L118.1,164L119.5,160.7L119.8,160.5L120.4,158.5L121.8,155.8L123.2,153L124.6,148.9L125.9,144.8L126.9,140.6L127.7,135.1L128.7,130.3L129.7,127.2L130.8,127.6L131.9,130.3L132.8,133.1L133.8,136.5L134.9,139.3L135.9,141.3L136.6,141.3L137.2,136L137.9,128.4L138.7,112.6L139.7,99.5L140.5,89L141.8,78.4L143.2,70.6L144.5,81L145.8,89L147.1,92.9L148.4,91.6L149.7,86.3L151,94.2L152.4,104.7L153.7,115.3L155,123.2L156.3,131L157.6,139L158.9,146.8L160.3,157.4L161,160.6L161.3,166L161.9,174L162.5,185L163.8,200L165,211.3L166.9,222.5L168.5,245L170.3,267.6L171.4,278.8L172.5,267.6L173.6,240.5L174.8,222.5L175.9,206.8L176.6,192.5L177.5,177.5L178.5,172.8L179.4,174.7L180.4,168L181.3,163.4L181.8,160.6L182.2,156.5L182.6,160.6L183.5,161L184,160L184.6,159L185,161.5L186.9,166.3L187.9,170L188.8,168.1L190.7,177.5L192,192.5L192.8,200L193.9,209L195,218L196.2,225.9L197.3,221.4L198,229.3L198.9,220.3L200,222.5L200.9,215.8L201.8,219.1L202.9,209L204.4,192.5L205.3,183L206.2,187L207.2,182.2L208.5,192.5L209.4,215L210.4,222.5L211.3,232.2L212.4,227L213.7,221.4L215.3,215.8L216.4,209L217.6,211.3L218.7,206.8L219.8,216.9L220.5,210.1L221.6,204.5L222.5,196.3L224.4,186.9L226.3,180.3L228,181.2L229.2,180L230.5,178.8L231.8,175L232.8,168.8L233.6,162.5L234,160.6L234.2,152.5L234.9,147.5L235.8,145.6L236.8,145L237.8,142.5L238.6,146.2L239.2,150L239.9,153.8L240.5,156.9L240.9,160.6L241.1,165L241.8,167.5L242.4,170L243.2,166.2L244,163.1L244.4,160.6L244.6,158.8L245.2,156.2L245.6,158.8L245.9,160.6L246.4,162.5L246.8,160.6L247.1,156.9L248,154.4L248.6,155L249.5,157.5L250.1,160.6L250.4,165L250.8,171.2L251.5,176.2L252,177.5L252.8,175L253.6,176.2L254.5,173.8L255.2,170L255.8,166.2L256.5,164.4L257.4,165.6L258.6,165L259.9,165.6L260.8,162.5L261.5,161.2L262.4,163.8L263.2,161.9L263.6,160.6L264,159.4L264.6,156.9L265.1,158.8L265.5,160.5L266.7,160L267.7,148.5L269.2,139.5L270.7,132L271.8,123L272.7,115.5L273.7,121.5L275.2,114.3L276.7,115.5L277.5,117L278.2,124.5L279,129L280,136.5L280.7,144L281.5,151.5L282.2,157.5L282.7,160.6L283,165L283.3,173.3L284.2,168.3L284.8,165L285.2,160.6L285.5,159L286,155.9L286.7,150L287.5,142.5L288.2,135L289,132.7L289.7,135L290.5,144L291.2,148.5L292,153L293,156.7L294.2,160.6L294.5,162L295,163.5L295.6,161L296,160L297,156L298.5,160.6L298.8,156.3L299.4,148.8L300,146.3L301,145L302,144.4L302.6,148.1L303.2,152.5L304.1,156.3L305,160.6L305.2,168.3L305.7,177.5L306.3,171.7L307.2,173.3L307.7,165L308,160.6L308.1,160.5L308.5,155L309.1,147.5L310,146.3L311,144.4L311.6,143.8L312.2,148.8L313.1,152.5L313.9,156.3L314.8,160.6L315.3,162L316,160.6L316.4,156.3L317.2,151.3L317.9,145L318.5,137.5L319.5,135L320.4,134L321.4,134.4L322,140L322.5,147.5L323.1,155L323.8,160.6L324.2,161L325,171.7L325.8,181.7L326.7,189.2L327.5,183.3L328.3,178.3L329.5,176.7L330.3,181.7L331.2,179.2L332.5,180L333.7,175L335,170L335.8,165L336.9,161.5L337.2,160.6L337.6,155L338.3,150L339.4,146.9L339.9,152L340.4,160L340.8,160L341.1,152L341.9,147.8L342.5,150L343,160.6L343.1,165L343.8,168.8L345,172.5L346,171.2L346.9,177.5L347.5,183.8L347.9,186.2L348.5,177.5L349.4,170L350.6,166.2L351.9,163.1L353.1,161.9L354.4,164.4L355.6,170L356.9,173.8L358.1,175L359.4,177.5L360.6,175L361.9,173.1L363.1,173.8L364.4,173.1L366.2,172.5L367.5,171.2L368.8,173.8L370,176.2L371.2,178.8L372.5,181.9L373.1,182.5L374.4,180L375.6,178.1L376.9,176.2L377.5,173.8L378.1,167.5L378.8,160.6L379.2,160L379.6,159.4L380,160.6L380.5,163L381,165L381.9,160.6L382.6,160L383.5,158.5L384.4,156.5L384.6,160.6L385.5,164.4L386.9,160.6L387.5,159L388.5,159L388.8,160.6L389.5,165L390,161L391.3,165L392.2,168.8L393.5,176.3L394.7,184.7L396,182.8L397.9,184.7L399.2,182.8L400.7,184.7L402.2,185.6L403.5,190.3L404.8,196.9L406.3,201.6L407.2,195L408.5,191.3L410,194.1L411.4,192.2L412.5,186.6L413.8,183.8L415.3,178.1L416.6,172.5L417.9,166.9L418.8,161.2L419.2,157.5L419.6,161.6L420.6,173.8L422.5,201.9L424.4,220L425.3,231.3L425.9,241.6L426.6,233.1L427.8,227.5L429,222.5L430.4,226.5L431.9,229.4L433.2,236.9L434.1,229.4L435.6,223.8L436.6,216.9L437.9,200L439.4,186.9L440.9,168.4L441.9,173.1L442.8,171.6L443.8,178.8L445.1,188.1L446.6,197.5L448.4,205L450.3,206.9L451.2,216.3L451.8,206.9L452.8,203.1L454.1,197.5L455,191.9L455.9,190L456.9,197.5L457.8,208.8L458.8,218.1L460.1,222.8L461.2,226.6L461.9,218.1L462.9,208.8L463.8,201.3L464.8,190L465.3,180.6L466.2,184.4L467.2,190L468.1,192.8L469.1,188.1L470,180.6L470.9,177.8L472.8,178.8L474.7,179.7L476.6,178.8L478.4,184.4L479.9,190L480.7,191.6L481.6,194.4L482.5,205.6L483.5,220L484.6,231.3L485.7,244.4L487.2,270L488.2,295L489.1,308.1L490.3,317.5L491.2,325L492.1,330.6L492.9,317.5L493.8,298.8L494.8,280L495.7,253.8L496.6,238.8L497.2,225.6L497.5,245.3L498.1,227.5L499,203.8L499.8,220L500.7,231.3L501.7,244.4L502.6,257.5L503.6,272.1L504.7,261.3L505.6,248.1L506.6,235L507.5,225.6L507.9,220L508.4,233.1L509,215L509.7,196L510.3,199L511.6,207.5L513.1,214L514.1,203.8L515.4,190.6L516.9,181.3L518.2,173.8L519.7,171.9L521,175.6L522.1,170L522.8,161.6L523,158.5L523.4,162L524,170L525,162.5L525.9,159L526.8,166.3L527.8,183.1L528.7,205.6L529.6,222L531,238.8L532.2,250L533.2,256.6L534.1,242.5L535.1,231.3L536,220L536.6,222.5L537.5,235L538.1,216.9L539.7,211.3L540.9,201.9L541.8,188.8L542.8,179.4L543.5,161.6L543.6,158L543.8,161L544.3,183.1L545,211.3L545.4,238.8L546.3,257.5L547.3,276.3L547.9,295L549.2,302.5L550.3,310L551.2,317.5L552.5,325L553.9,336.3L554.8,345.6L555.7,350.3L556.7,336.3L557.2,317.5L557.8,298.8L558.2,282L559.1,276.3L560,283.8L561,266.9L562.3,253.8L563.2,248.1L564.1,276.3L564.6,296L565.3,276.3L566,263.1L567,248.1L567.9,266.9L568.9,274.4L569.4,278L570.4,266.9L571.3,261.3L572.2,248.1L573.2,235L574.1,238.8L575,259.4L575.6,238.8L576.5,231.3L576.9,224L577.9,213.1L578.8,207.5L579.7,211.3L580.7,203.8L582,198.1L583.1,200L584.1,192.5L585,179.4L585.7,168.1L586.3,160.6L586.5,152L587.2,146L587.6,142.6L588.3,144L589,150L589.7,160.6L589.7,160.6Z" fill="#dd2a26" clip-path="url(#cd)"/>
</g>
<g clip-path="url(#cb)"><rect x="34.9" y="56.0" width="559.8000000000001" height="308.3" fill="url(#st)"/></g>
<!-- footer -->
<g><path id="bell" d="M201.8,384C200.1,384 199.7,385.6 199.6,387.4C199.5,388.9 198.7,389.5 198.3,390.5L205.3,390.5C204.9,389.5 204.1,388.9 204,387.4C203.9,385.6 203.5,384 201.8,384Z" fill="#fdc83a"/><path d="M201.8,384C200.1,384 199.7,385.6 199.6,387.4C199.5,388.9 198.7,389.5 198.3,390.5L205.3,390.5C204.9,389.5 204.1,388.9 204,387.4C203.9,385.6 203.5,384 201.8,384Z" fill="#f3a530" clip-path="url(#bl)"/></g>
<text x="208.6" y="390.2" class="ft"><tspan textLength="141.3" lengthAdjust="spacingAndGlyphs">Explore Actionable &amp; Free On-Chain Insights:</tspan><tspan x="352.3" text-decoration="underline" textLength="80" lengthAdjust="spacingAndGlyphs">https://x.com/JA_Maartun</tspan></text>
<text x="549.2" y="390.2" class="ft" textLength="89.8" lengthAdjust="spacingAndGlyphs">&#169; CryptoQuant. All rights reserved</text>
</svg>
</body>
</html>
